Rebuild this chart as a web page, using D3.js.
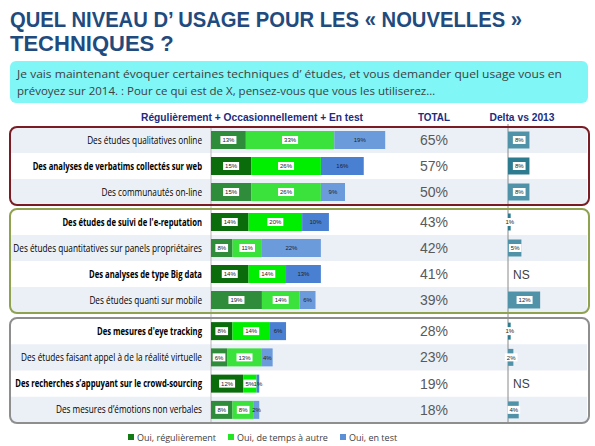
<!DOCTYPE html>
<html><head><meta charset="utf-8">
<script src="https://cdn.jsdelivr.net/npm/d3@7"></script>
<style>body{margin:0;background:#fff}</style>
</head><body><svg id="c" width="595" height="446"></svg>
<script>
const titleLines = ["QUEL NIVEAU D\u2019 USAGE POUR LES \u00ab NOUVELLES \u00bb", "TECHNIQUES ?"];
const questionLines = ["Je vais maintenant \u00e9voquer certaines techniques d\u2019 \u00e9tudes, et vous demander quel usage vous en",
  "pr\u00e9voyez sur 2014. : Pour ce qui est de X, pensez-vous que vous les utiliserez\u2026"];
const headers = ["R\u00e9guli\u00e8rement + Occasionnellement + En test", "TOTAL", "Delta vs 2013"];
const categories = [
  "Des \u00e9tudes qualitatives online",
  "Des analyses de verbatims collect\u00e9s sur web",
  "Des communaut\u00e9s on-line",
  "Des \u00e9tudes de suivi de l'e-reputation",
  "Des \u00e9tudes quantitatives sur panels propri\u00e9taires",
  "Des analyses de type Big data",
  "Des \u00e9tudes quanti sur mobile",
  "Des mesures d'eye tracking",
  "Des \u00e9tudes faisant appel \u00e0 de la r\u00e9alit\u00e9 virtuelle",
  "Des recherches s\u2019appuyant sur le crowd-sourcing",
  "Des mesures d\u2019\u00e9motions non verbales"
];
const regulier = [13, 15, 15, 14, 8, 14, 19, 8, 6, 12, 8];
const occasion = [33, 26, 26, 20, 11, 14, 14, 14, 13, 5, 8];
const enTest   = [19, 16, 9, 10, 22, 13, 6, 6, 4, 1, 2];
const totals   = [65, 57, 50, 43, 42, 41, 39, 28, 23, 19, 18];
const deltas   = [8, 8, 8, 1, 5, null, 12, 1, 2, null, 4];
const emphasis = [false, true, false, true, false, true, false, true, false, true, false];
const groupSizes = [3, 4, 4];
const legendLabels = ["Oui, r\u00e9guli\u00e8rement", "Oui, de temps \u00e0 autre", "Oui, en test"];

const svg = d3.select("#c");
const FONT = "'Liberation Sans', Arial, sans-serif";
const BODY = "'Open Sans', 'Noto Sans', sans-serif";

function fit(sel, w) {
  const n = sel.node();
  const len = n.getComputedTextLength();
  if (len > 0) sel.attr("textLength", w).attr("lengthAdjust", "spacingAndGlyphs");
}

// Title
const tY = [27, 51];
titleLines.forEach((t, i) => {
  const s = svg.append("text").attr("x", 10).attr("y", tY[i]).text(t)
    .attr("font-family", FONT).attr("font-weight", "bold").attr("font-size", 22).attr("fill", "#1f4b7e");
  if (i === 0) fit(s, 512);
});

// Question box
svg.append("rect").attr("x", 10).attr("y", 61).attr("width", 578).attr("height", 42).attr("rx", 6)
  .attr("fill", "#80f6f7");
questionLines.forEach((t, i) => {
  const s = svg.append("text").attr("x", 17).attr("y", 78 + i * 17).text(t)
    .attr("font-family", BODY).attr("font-size", 11.5).attr("fill", "#404040");
  if (i === 0) fit(s, 545);
});

// Headers
const hX = [252, 434, 522], hW = [222, 32, 65];
headers.forEach((h, i) => {
  const s = svg.append("text").attr("x", hX[i]).attr("y", 121).attr("text-anchor", "middle").text(h)
    .attr("font-family", FONT).attr("font-weight", "bold").attr("font-size", 10).attr("fill", "#1c2c80");
  fit(s, hW[i]);
});

// Layout
const groupBoxes = [{y0: 127, y1: 205, c: "#7a1c24"}, {y0: 209, y1: 313, c: "#8fa24f"}, {y0: 318, y1: 423, c: "#8e8e8e"}];
const rows = [];
let idx = 0;
groupSizes.forEach((n, g) => {
  const b = groupBoxes[g], p = (b.y1 - b.y0) / n;
  for (let i = 0; i < n; i++) { rows.push({i: idx, top: b.y0 + p * i, h: p, cy: b.y0 + p * (i + 0.5)}); idx++; }
});

const x = d3.scaleLinear().domain([0, 100]).range([211, 479]);
const xd = d3.scaleLinear().domain([0, 100]).range([508, 776]);
const barH = 18;

// row backgrounds
rows.forEach(r => {
  if (!emphasis[r.i]) svg.append("rect").attr("x", 11).attr("y", r.top).attr("width", 576).attr("height", r.h).attr("fill", "#ebf0f7");
});

// axis lines
svg.append("line").attr("x1", x(0)).attr("x2", x(0)).attr("y1", 126).attr("y2", 423).attr("stroke", "#b8b8b8").attr("stroke-width", 1);
svg.append("line").attr("x1", xd(0)).attr("x2", xd(0)).attr("y1", 124).attr("y2", 423).attr("stroke", "#8a8a8a").attr("stroke-width", 1);

// labels
const labelSel = [];
categories.forEach((c, i) => {
  const s = svg.append("text").attr("x", 0).attr("y", 0).attr("text-anchor", "end").text(c)
    .attr("font-family", BODY).attr("font-size", 10.5).attr("font-weight", emphasis[i] ? "bold" : "normal").attr("fill", "#000");
  labelSel.push(s);
});
const kN = 189 / labelSel[4].node().getComputedTextLength();
const kB = 187 / labelSel[9].node().getComputedTextLength();
labelSel.forEach((s, i) => {
  s.attr("transform", `translate(202,${rows[i].cy + 3.6}) scale(${emphasis[i] ? kB : kN},1)`);
});

// stacked bars
const table = categories.map((c, i) => ({c, reg: regulier[i], occ: occasion[i], test: enTest[i]}));
const keys = ["reg", "occ", "test"];
const stack = d3.stack().keys(keys)(table);
const colNorm = ["#2f8c3a", "#3be23b", "#6c9bdc"];
const colEmph = ["#0a6c0a", "#00ee00", "#4a80d2"];
stack.forEach((layer, k) => {
  layer.forEach((d, i) => {
    const cy = rows[i].cy;
    svg.append("rect").attr("x", x(d[0])).attr("y", cy - barH / 2).attr("width", x(d[1]) - x(d[0])).attr("height", barH)
      .attr("fill", emphasis[i] ? colEmph[k] : colNorm[k]);
  });
});
stack.forEach((layer, k) => {
  layer.forEach((d, i) => {
    const cy = rows[i].cy;
    const cx = (x(d[0]) + x(d[1])) / 2;
    const g = svg.append("g");
    const t = g.append("text").attr("x", cx).attr("y", cy + 2.2).attr("text-anchor", "middle")
      .attr("font-family", FONT).attr("font-size", 6).attr("fill", "#222").text((d[1] - d[0]) + "%");
    if (k < 2) {
      const w = t.node().getComputedTextLength() + 4;
      g.insert("rect", "text").attr("x", cx - w / 2).attr("y", cy - 4).attr("width", w).attr("height", 8).attr("fill", "#fff");
    }
  });
});

// totals
totals.forEach((v, i) => {
  svg.append("text").attr("x", 434).attr("y", rows[i].cy + 5).attr("text-anchor", "middle")
    .attr("font-family", FONT).attr("font-size", 14).attr("fill", "#595959").text(v + "%");
});

// deltas
deltas.forEach((v, i) => {
  const cy = rows[i].cy;
  if (v === null) {
    svg.append("text").attr("x", 513).attr("y", cy + 4.5).attr("font-family", FONT).attr("font-size", 12)
      .attr("fill", "#404040").text("NS");
    return;
  }
  svg.append("rect").attr("x", xd(0)).attr("y", cy - 8.5).attr("width", xd(v) - xd(0)).attr("height", 17)
    .attr("fill", emphasis[i] ? "#2c7b8f" : "#5093a9");
  const cx = (xd(0) + xd(v)) / 2 + 0.5;
  const g = svg.append("g");
  const t = g.append("text").attr("x", cx).attr("y", cy + 2.2).attr("text-anchor", "middle")
    .attr("font-family", FONT).attr("font-size", 6).attr("fill", "#222").text(v + "%");
  const w = t.node().getComputedTextLength() + 4;
  g.insert("rect", "text").attr("x", cx - w / 2).attr("y", cy - 4).attr("width", w).attr("height", 8).attr("fill", "#fff");
});

// group boxes
groupBoxes.forEach(b => {
  svg.append("rect").attr("x", 10).attr("y", b.y0).attr("width", 579).attr("height", b.y1 - b.y0).attr("rx", 7)
    .attr("fill", "none").attr("stroke", b.c).attr("stroke-width", 2);
});

// legend
const legCol = ["#127a12", "#22e622", "#5b8fd6"];
const legX = [128, 228, 340];
legendLabels.forEach((l, i) => {
  svg.append("rect").attr("x", legX[i]).attr("y", 434).attr("width", 6).attr("height", 6).attr("fill", legCol[i]);
  svg.append("text").attr("x", legX[i] + 9).attr("y", 440.5).attr("font-family", BODY).attr("font-size", 9)
    .attr("fill", "#404040").text(l);
});
</script></body></html>
